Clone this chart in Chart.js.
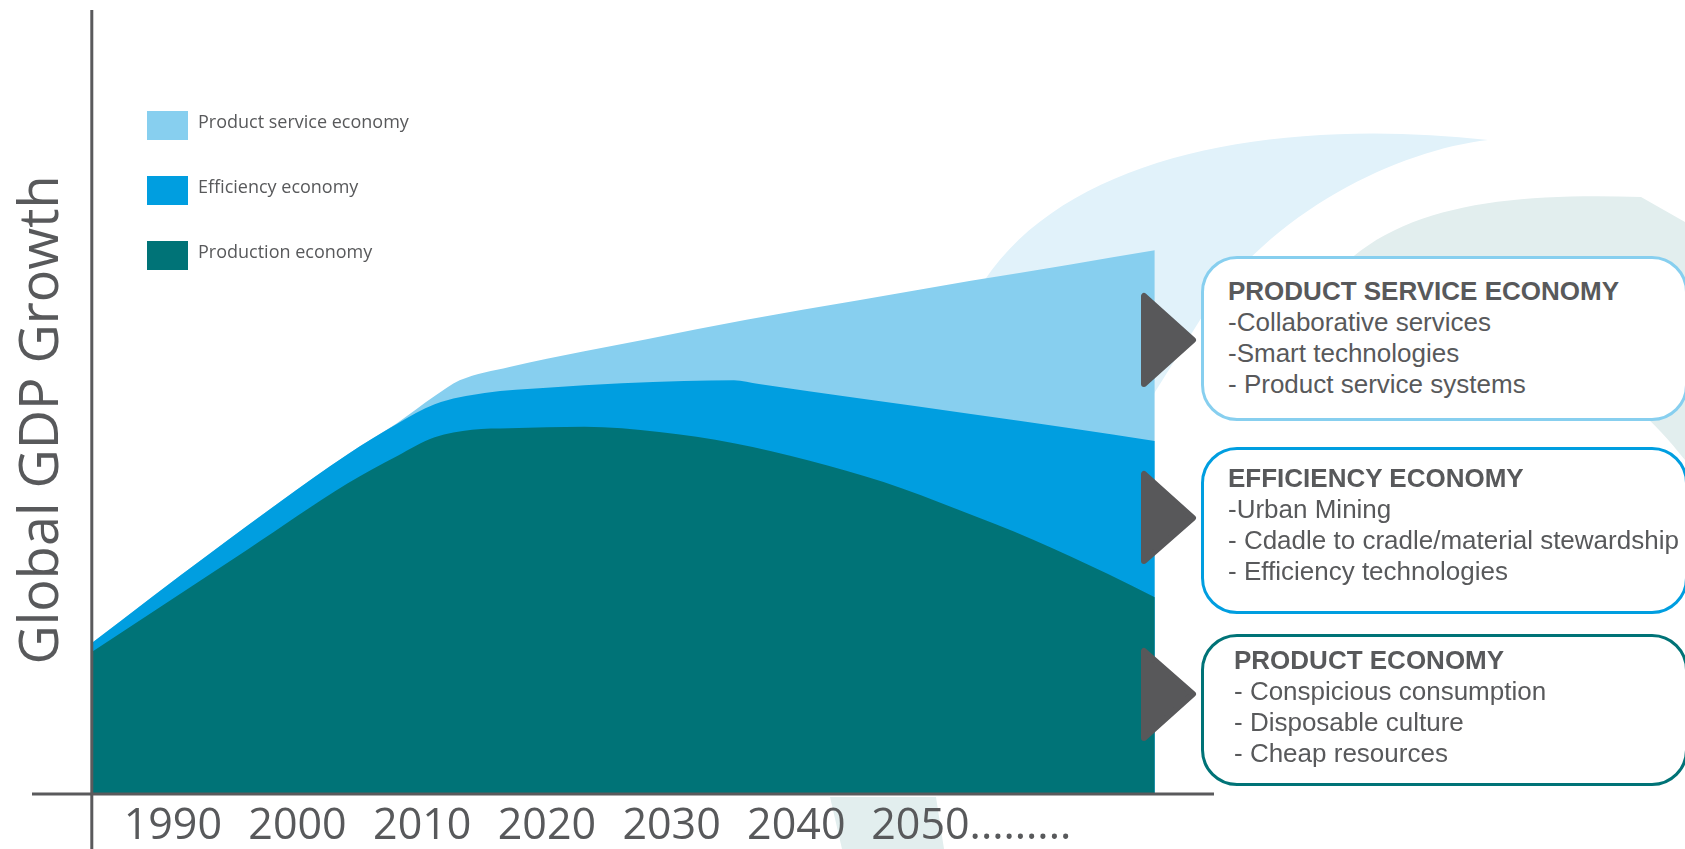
<!DOCTYPE html>
<html>
<head>
<meta charset="utf-8">
<title>Global GDP Growth</title>
<script src="https://cdn.jsdelivr.net/npm/chart.js@4.4.1/dist/chart.umd.min.js"></script>
<style>
  html, body { margin: 0; padding: 0; background: #fff; }
  #wrap { position: relative; width: 1685px; height: 849px; overflow: hidden; font-family: "Open Sans", sans-serif; }
  #wrap canvas { position: absolute; left: 0; top: 0; }
  .swatch { position: absolute; left: 147px; width: 41px; height: 29px; }
  .legend-text { position: absolute; left: 198px; font-size: 18px; line-height: 29px; color: #58595b; white-space: nowrap; }
  .box { position: absolute; left: 1201px; width: 487px; box-sizing: border-box; border: 3px solid; border-radius: 36px; background: #fff; }
  .box-text { position: absolute; font-family: "Liberation Sans", Arial, sans-serif; font-size: 26px; line-height: 31px; color: #58595b; white-space: nowrap; }
  .box-text b { font-weight: bold; }
  svg.arrows { position: absolute; left: 0; top: 0; }
</style>
</head>
<body>
<div id="wrap">
  <canvas id="chart"></canvas>

  <!-- legend -->
  <div class="swatch" style="top:111px;background:#87cfef"></div>
  <div class="legend-text" style="top:107px">Product service economy</div>
  <div class="swatch" style="top:176px;background:#009ee0"></div>
  <div class="legend-text" style="top:172px">Efficiency economy</div>
  <div class="swatch" style="top:241px;background:#007377"></div>
  <div class="legend-text" style="top:237px">Production economy</div>

  <!-- notes on the right -->
  <div class="box" style="top:256px;height:165px;border-color:#87cfef"></div>
  <div class="box" style="top:447px;height:167px;border-color:#009ee0"></div>
  <div class="box" style="top:634px;height:152px;border-color:#007377"></div>

  <div class="box-text" style="left:1228px;top:276px">
    <b>PRODUCT SERVICE ECONOMY</b><br>-Collaborative services<br>-Smart technologies<br>- Product service systems
  </div>
  <div class="box-text" style="left:1228px;top:463px">
    <b>EFFICIENCY ECONOMY</b><br>-Urban Mining<br>- Cdadle to cradle/material stewardship<br>- Efficiency technologies
  </div>
  <div class="box-text" style="left:1234px;top:645px">
    <b>PRODUCT ECONOMY</b><br>- Conspicious consumption<br>- Disposable culture<br>- Cheap resources
  </div>

  <svg class="arrows" width="1685" height="849">
    <g fill="#58585a" stroke="#58585a" stroke-width="6" stroke-linejoin="round">
      <polygon points="1144,296 1144,384 1193,340"/>
      <polygon points="1144,474 1144,561 1193,518"/>
      <polygon points="1144,651 1144,738 1193,694"/>
    </g>
  </svg>
</div>

<script>
// tick years along the bottom
const tickYears = [1990, 2000, 2010, 2020, 2030, 2040, 2050];
const tickLabels = ["1990", "2000", "2010", "2020", "2030", "2040", "2050........."];

// Production economy (top of the teal area)
const productionYears = [1983.5, 1996, 2004, 2008, 2011, 2014, 2017, 2023, 2029, 2035, 2041, 2047, 2053, 2059, 2065, 2068.75];
const productionValues = [19.0, 32.7, 41.5, 45.2, 47.7, 48.7, 48.9, 49.1, 48.4, 46.9, 44.6, 41.7, 38.0, 34.0, 29.4, 26.3];

// Efficiency economy (top of the blue area)
const efficiencyYears = [1983.5, 1993, 2004, 2008, 2011, 2015, 2020, 2026, 2031, 2035, 2037, 2045, 2054, 2062, 2068.75];
const efficiencyValues = [20.2, 32.2, 45.4, 49.5, 52.1, 53.6, 54.3, 54.9, 55.2, 55.3, 54.8, 52.9, 50.8, 48.9, 47.2];

// Product service economy (top of the light blue area)
const serviceYears = [1983.5, 1993, 2004, 2008, 2011, 2013, 2017, 2023, 2028, 2036, 2045, 2054, 2062, 2068.75];
const serviceValues = [20.2, 32.2, 45.4, 49.6, 53.2, 55.3, 57.1, 59.2, 60.8, 63.4, 66.0, 68.6, 70.8, 72.7];

const toPoints = (xs, ys) => xs.map((x, i) => ({ x, y: ys[i] }));

// pale swooshes behind the chart
const backdrop = {
  id: "backdrop",
  beforeDraw(chart) {
    const ctx = chart.ctx;
    ctx.save();
    ctx.fillStyle = "#e1f2fa";
    ctx.beginPath();
    ctx.moveTo(960, 330);
    ctx.bezierCurveTo(1020, 160, 1260, 115, 1488, 140);
    ctx.bezierCurveTo(1400, 150, 1270, 210, 1200, 320);
    ctx.lineTo(1150, 400);
    ctx.lineTo(1050, 450);
    ctx.closePath();
    ctx.fill();

    ctx.fillStyle = "#e2eeee";
    ctx.beginPath();
    ctx.moveTo(1300, 330);
    ctx.bezierCurveTo(1350, 210, 1480, 192, 1641, 197);
    ctx.lineTo(1685, 222);
    ctx.lineTo(1685, 460);
    ctx.bezierCurveTo(1600, 350, 1500, 330, 1400, 360);
    ctx.closePath();
    ctx.fill();

    ctx.beginPath();
    ctx.moveTo(830, 797);
    ctx.lineTo(936, 797);
    ctx.lineTo(944, 849);
    ctx.lineTo(842, 849);
    ctx.closePath();
    ctx.fill();
    ctx.restore();
  }
};

// axis lines run past the chart area like in the original drawing
const axisLines = {
  id: "axisLines",
  afterDatasetsDraw(chart) {
    const { ctx, scales } = chart;
    const x0 = scales.x.getPixelForValue(productionYears[0]);
    const y0 = scales.y.getPixelForValue(0);
    ctx.save();
    ctx.strokeStyle = "#5a5a5c";
    ctx.lineWidth = 3;
    ctx.beginPath();
    ctx.moveTo(x0, 10);
    ctx.lineTo(x0, chart.height);
    ctx.moveTo(32, y0);
    ctx.lineTo(scales.x.right, y0);
    ctx.stroke();
    ctx.restore();
  }
};

const areaStyle = {
  borderWidth: 0,
  pointRadius: 0,
  fill: "origin",
  cubicInterpolationMode: "monotone"
};

new Chart(document.getElementById("chart"), {
  type: "line",
  data: {
    datasets: [
      { ...areaStyle, label: "Product service economy", data: toPoints(serviceYears, serviceValues), backgroundColor: "#87cfef", order: 2 },
      { ...areaStyle, label: "Efficiency economy", data: toPoints(efficiencyYears, efficiencyValues), backgroundColor: "#009ee0", order: 1 },
      { ...areaStyle, label: "Production economy", data: toPoints(productionYears, productionValues), backgroundColor: "#007377", order: 0 }
    ]
  },
  options: {
    responsive: true,
    maintainAspectRatio: false,
    animation: false,
    events: [],
    layout: { padding: { left: 0, top: 46, right: 471, bottom: 0 } },
    plugins: {
      legend: { display: false },
      tooltip: { enabled: false }
    },
    scales: {
      x: {
        type: "linear",
        min: 1983.5,
        max: 2073.5,
        afterBuildTicks: (scale) => {
          scale.ticks = tickYears.map((v) => ({ value: v }));
        },
        grid: { display: false, drawTicks: true, tickLength: 10.3 },
        border: { display: false },
        ticks: {
          autoSkip: false,
          maxRotation: 0,
          minRotation: 0,
          padding: 3,
          color: "#58595b",
          font: { family: "Open Sans", size: 43, lineHeight: 0.9 },
          callback: (value, i) => {
            const label = tickLabels[i];
            const dots = (label.match(/\.+$/) || [""])[0];
            return " ".repeat(dots.length) + label;
          }
        }
      },
      y: {
        type: "linear",
        min: 0,
        max: 100,
        position: "left",
        grid: { display: false, drawTicks: false },
        border: { display: false },
        ticks: { display: false },
        title: {
          display: true,
          text: "Global GDP Growth",
          color: "#58595b",
          font: { family: "Open Sans", size: 54, lineHeight: 1.2 },
          padding: { top: 10, bottom: 17 }
        }
      }
    }
  },
  plugins: [backdrop, axisLines]
});
</script>
</body>
</html>
